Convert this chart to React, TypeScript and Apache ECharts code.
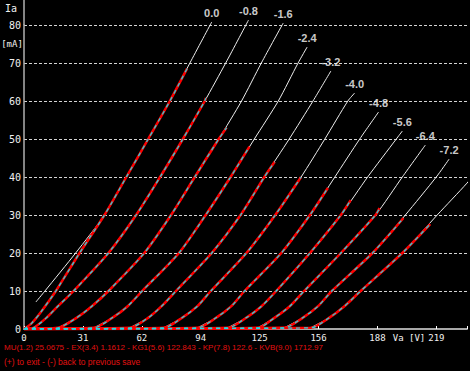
import React, { useEffect, useRef } from 'react';
import * as echarts from 'echarts';

// Grid voltages (curve labels)
const gridVoltages = ['0.0', '-0.8', '-1.6', '-2.4', '-3.2', '-4.0', '-4.8', '-5.6', '-6.4', '-7.2', '-8.0'];
const labelShown = [true, true, true, true, true, true, true, true, true, true, false];

// Axis tick values / labels
const xTickValues = [0, 31.25, 62.5, 93.75, 125, 156.25, 187.5, 218.75];
const xTickLabels = ['0', '31', '62', '94', '125', '156', '188', '219'];
const yTickLabels = ['0', '10', '20', '30', '40', '50', '60', '70', '80'];

// Model curves (white)  [Va (V), Ia (mA)]
const model00 = [[6.3, 7.1], [11.1, 10], [27.4, 20], [42.7, 30], [54.3, 40], [65.9, 50], [77.4, 60], [88.0, 70], [99.6, 80.8]];
const model08 = [[5, 0.3], [12, 3], [18, 6], [26.3, 10], [44.8, 20], [59.5, 30], [72.2, 40], [84.3, 50], [95.9, 60], [107, 70], [119.1, 81.3]];
const model16 = [[18, 0.3], [28, 3], [36, 6], [44.8, 10], [63.8, 20], [78.0, 30], [90.6, 40], [103.3, 50], [115.4, 60], [125.9, 70], [137.5, 80.5]];
const model24 = [[37, 0.3], [47, 3], [55, 6], [62.7, 10], [82.2, 20], [96.4, 30], [109.6, 40], [122.2, 50], [134.9, 60], [145.4, 70], [150.2, 74.2]];
const model32 = [[56, 0.3], [66, 3], [73, 6], [80.6, 10], [99.6, 20], [114.9, 30], [127.5, 40], [140.7, 50], [153.3, 60], [162.8, 67.9]];
const model40 = [[74, 0.3], [84, 3], [92, 6], [99.1, 10], [118.0, 20], [133.3, 30], [147.0, 40], [159.6, 50], [171.8, 60], [175.4, 62.1]];
const model48 = [[92, 0.3], [102, 3], [110, 6], [117.0, 10], [136.5, 20], [151.7, 30], [164.9, 40], [178.1, 50], [188.1, 57.1]];
const model56 = [[108, 0.3], [118, 3], [126, 6], [133.8, 10], [151.7, 20], [168.1, 30], [182.3, 40], [197.5, 50], [200.7, 52.1]];
const model64 = [[124, 0.3], [133, 3], [141, 6], [148.6, 10], [168.1, 20], [186.5, 30], [200.7, 40], [212.9, 48.4]];
const model72 = [[138, 0.3], [148, 3], [156, 6], [163.3, 10], [184.9, 20], [202.3, 30], [218.7, 40], [225.5, 44.7]];
const model80 = [[152, 0.3], [162, 3], [170, 6], [178.6, 10], [200.7, 20], [219.2, 30], [235, 38.4], [247, 45.5]];

// Measured curves (red / cyan)
const meas00 = [[0, 0], [4, 1.5], [9, 4.5], [16.9, 10], [29.5, 20], [42.7, 30], [54.3, 40], [65.9, 50], [77.4, 60], [86.5, 68.5]];
const meas08 = [[0, 0], [5, 0.3], [12, 3], [18, 6], [26.3, 10], [44.8, 20], [59.5, 30], [72.2, 40], [84.3, 50], [95.9, 60], [96.5, 60.8]];
const meas16 = [[0, 0], [18, 0.3], [28, 3], [36, 6], [44.8, 10], [63.8, 20], [78.0, 30], [90.6, 40], [103.3, 50], [107.5, 53]];
const meas24 = [[0, 0], [37, 0.3], [47, 3], [55, 6], [62.7, 10], [82.2, 20], [96.4, 30], [109.6, 40], [119.6, 48]];
const meas32 = [[0, 0], [56, 0.3], [66, 3], [73, 6], [80.6, 10], [99.6, 20], [114.9, 30], [127.5, 40], [133, 44]];
const meas40 = [[0, 0], [74, 0.3], [84, 3], [92, 6], [99.1, 10], [118.0, 20], [133.3, 30], [147.0, 40]];
const meas48 = [[0, 0], [92, 0.3], [102, 3], [110, 6], [117, 10], [136.5, 20], [151.7, 30], [161.2, 37.1]];
const meas56 = [[0, 0], [108, 0.3], [118, 3], [126, 6], [133.8, 10], [151.7, 20], [168.1, 30], [173.3, 33.9]];
const meas64 = [[0, 0], [124, 0.3], [133, 3], [141, 6], [148.6, 10], [168.1, 20], [186.5, 30], [188.6, 31.8]];
const meas72 = [[0, 0], [138, 0.3], [148, 3], [156, 6], [163.3, 10], [184.9, 20], [201.3, 29.2]];
const meas80 = [[0, 0], [152, 0.3], [162, 3], [170, 6], [178.6, 10], [200.7, 20], [215.5, 27.6]];

const models = [model00, model08, model16, model24, model32, model40, model48, model56, model64, model72, model80];
const measured = [meas00, meas08, meas16, meas24, meas32, meas40, meas48, meas56, meas64, meas72, meas80];

const footerLine1 = 'MU(1.2) 25.0675 - EX(3.4) 1.1612 - KG1(5.6) 122.843 - KP(7.8) 122.6 - KVB(9.0) 1712.97';
const footerLine2 = '(+) to exit - (-) back to previous save';

const MONO = 'DejaVu Sans Mono';

export default function App() {
  const ref = useRef<HTMLDivElement>(null);

  useEffect(() => {
    document.body.style.margin = '0';
    document.body.style.background = '#000';
    if (!ref.current) return;
    const chart = echarts.init(ref.current, undefined, { renderer: 'svg' });

    const series: any[] = [];
    models.forEach((m, i) => {
      series.push({
        type: 'line', name: 'model ' + gridVoltages[i], data: m, smooth: 0.25,
        symbol: 'none', clip: false, z: 2, silent: true,
        lineStyle: { color: '#eeeeee', width: 1 },
      });
    });
    measured.forEach((m, i) => {
      series.push({
        type: 'line', name: 'meas ' + gridVoltages[i], data: m, smooth: 0.25,
        symbol: 'none', z: 3, silent: true,
        lineStyle: { color: '#ff0000', width: 2.5 },
      });
      series.push({
        type: 'line', name: 'meas2 ' + gridVoltages[i], data: m, smooth: 0.25,
        symbol: 'none', z: 4, silent: true,
        lineStyle: { color: '#1cdce6', width: 1.2, type: [4, 4] },
      });
    });
    series.push({
      type: 'scatter', name: 'labels', z: 5, silent: true, clip: false,
      symbol: 'circle', symbolSize: 1,
      itemStyle: { color: 'rgba(0,0,0,0)' },
      data: models
        .map((m, i) => ({ name: gridVoltages[i], value: m[m.length - 1], show: labelShown[i] }))
        .filter((d) => d.show)
        .map((d) => ({ name: d.name, value: d.value })),
      label: {
        show: true, position: 'top', distance: 3,
        formatter: (p: any) => p.name,
        color: '#ffffff', fontWeight: 'bold', fontSize: 11, fontFamily: 'Liberation Sans',
      },
    });

    chart.setOption({
      animation: false,
      backgroundColor: '#000000',
      grid: { left: 24, right: 0, top: 25, bottom: 42 },
      xAxis: {
        type: 'value', min: 0, max: 235, interval: 31.25,
        axisLine: { show: true, lineStyle: { color: '#a8a8a8', width: 2 } },
        axisTick: { show: true, inside: true, length: 3, lineStyle: { color: '#ffffff', width: 1 } },
        axisLabel: {
          color: '#f0f0f0', fontFamily: MONO, fontSize: 9, margin: 4, lineHeight: 9,
          formatter: (v: number) => {
            const i = xTickValues.indexOf(v);
            return i >= 0 ? xTickLabels[i] : '';
          },
        },
        splitLine: { show: false },
      },
      yAxis: {
        type: 'value', min: 0, max: 80, interval: 10,
        axisLine: { show: true, lineStyle: { color: '#b0b0b0', width: 1.5 } },
        axisTick: { show: false },
        axisLabel: {
          color: '#f0f0f0', fontFamily: MONO, fontSize: 10, margin: 3,
          formatter: (v: number) => yTickLabels[Math.round(v / 10)] ?? '',
        },
        splitLine: { show: true, lineStyle: { color: '#d4d4d4', width: 1, type: [3, 2] } },
      },
      graphic: [
        { type: 'line', shape: { x1: 24, y1: 0, x2: 24, y2: 25 }, style: { stroke: '#b0b0b0', lineWidth: 1.5 }, silent: true },
        { type: 'text', x: 11, y: 8, style: { text: 'Ia', fill: '#f0f0f0', font: `10px "${MONO}"`, align: 'center', verticalAlign: 'middle' } },
        { type: 'text', x: 12, y: 44, style: { text: '[mA]', fill: '#f0f0f0', font: `9px "${MONO}"`, align: 'center', verticalAlign: 'middle' } },
        { type: 'text', x: 409, y: 337.5, style: { text: 'Va [V]', fill: '#f0f0f0', font: `9px "${MONO}"`, align: 'center', verticalAlign: 'middle' } },
        { type: 'text', x: 4, y: 347, style: { text: footerLine1, fill: '#e01010', font: '8px "Liberation Sans"', align: 'left', verticalAlign: 'middle' } },
        { type: 'text', x: 4, y: 362, style: { text: footerLine2, fill: '#e01010', font: '8.5px "Liberation Sans"', align: 'left', verticalAlign: 'middle' } },
      ],
      series,
    });

    return () => chart.dispose();
  }, []);

  return <div ref={ref} style={{ width: 470, height: 371, background: '#000' }} />;
}
